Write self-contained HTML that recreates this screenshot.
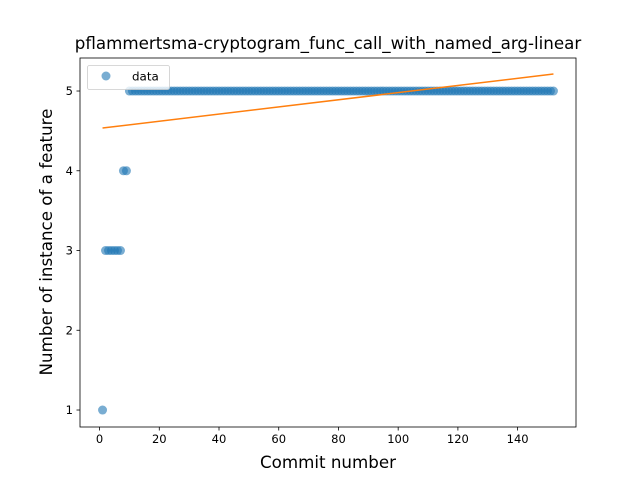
<!DOCTYPE html>
<html><head><meta charset="utf-8"><style>
body{margin:0;background:#fff;}
svg{display:block;font-family:"DejaVu Sans","Liberation Sans",sans-serif;}
</style></head><body>
<svg id="chart" width="640" height="480">
<rect width="640" height="480" fill="#fff"/>
<g id="plot"></g>
</svg>
<script>
const xTicks=[0,20,40,60,80,100,120,140];
const yTicks=[1,2,3,4,5];
const commits=[];
const values=[];
commits.push(1);values.push(1);
const threes=[2,3,4,5,6,7];
const fours=[8,9];
threes.forEach(c=>{commits.push(c);values.push(3);});
fours.forEach(c=>{commits.push(c);values.push(4);});
for(let c=10;c<=152;c++){commits.push(c);values.push(5);}
const fitX=[1,152];
const fitY=[4.536,5.213];

const L=80,R=576,T=58,B=427;
const xmin=-6.55,xmax=159.55,ymin=0.787,ymax=5.414;
const sx=v=>L+(v-xmin)/(xmax-xmin)*(R-L);
const sy=v=>B-(v-ymin)/(ymax-ymin)*(B-T);
const NS='http://www.w3.org/2000/svg';
const g=document.getElementById('plot');
function mk(t,a,txt){const e=document.createElementNS(NS,t);for(const k in a)e.setAttribute(k,a[k]);if(txt!==undefined)e.textContent=txt;g.appendChild(e);return e;}

commits.forEach((c,i)=>{
  const p=mk('circle',{cx:sx(c),cy:sy(values[i]),r:4.5,fill:'#1f77b4','fill-opacity':0.6});
  
  
});
const ln=mk('line',{x1:sx(fitX[0]),y1:sy(fitY[0]),x2:sx(fitX[1]),y2:sy(fitY[1]),stroke:'#ff7f0e','stroke-width':1.5});



const fr=mk('rect',{x:L,y:T,width:R-L,height:B-T,fill:'none',stroke:'#000','stroke-width':0.8});



xTicks.forEach(v=>{
  const x=sx(v);
  mk('line',{x1:x,y1:B,x2:x,y2:B+3.5,stroke:'#000','stroke-width':0.8});
  const t=mk('text',{x:x,y:B+16,'font-size':11.5,'text-anchor':'middle'},v);
  
  
});
yTicks.forEach(v=>{
  const y=sy(v);
  mk('line',{x1:L-3.5,y1:y,x2:L,y2:y,stroke:'#000','stroke-width':0.8});
  const t=mk('text',{x:L-7,y:y+4,'font-size':11.5,'text-anchor':'end'},v);
  
  
});
const title=mk('text',{x:(L+R)/2,y:T-9,'font-size':16.7,'text-anchor':'middle'},'pflammertsma-cryptogram_func_call_with_named_arg-linear');


const xl=mk('text',{x:(L+R)/2,y:468,'font-size':16.7,'text-anchor':'middle'},'Commit number');


const yl=mk('text',{x:0,y:0,'font-size':16.7,'text-anchor':'middle',transform:'translate(52,242) rotate(-90)'},'Number of instance of a feature');



const lg=mk('rect',{x:87.5,y:65.5,width:82,height:24,rx:2,fill:'#fff','fill-opacity':0.8,stroke:'#ccc','stroke-width':0.8});


const lm=mk('circle',{cx:106,cy:76,r:4.5,fill:'#1f77b4','fill-opacity':0.6});


const lt=mk('text',{x:132,y:80.5,'font-size':11.9},'data');


</script>
</body></html>
